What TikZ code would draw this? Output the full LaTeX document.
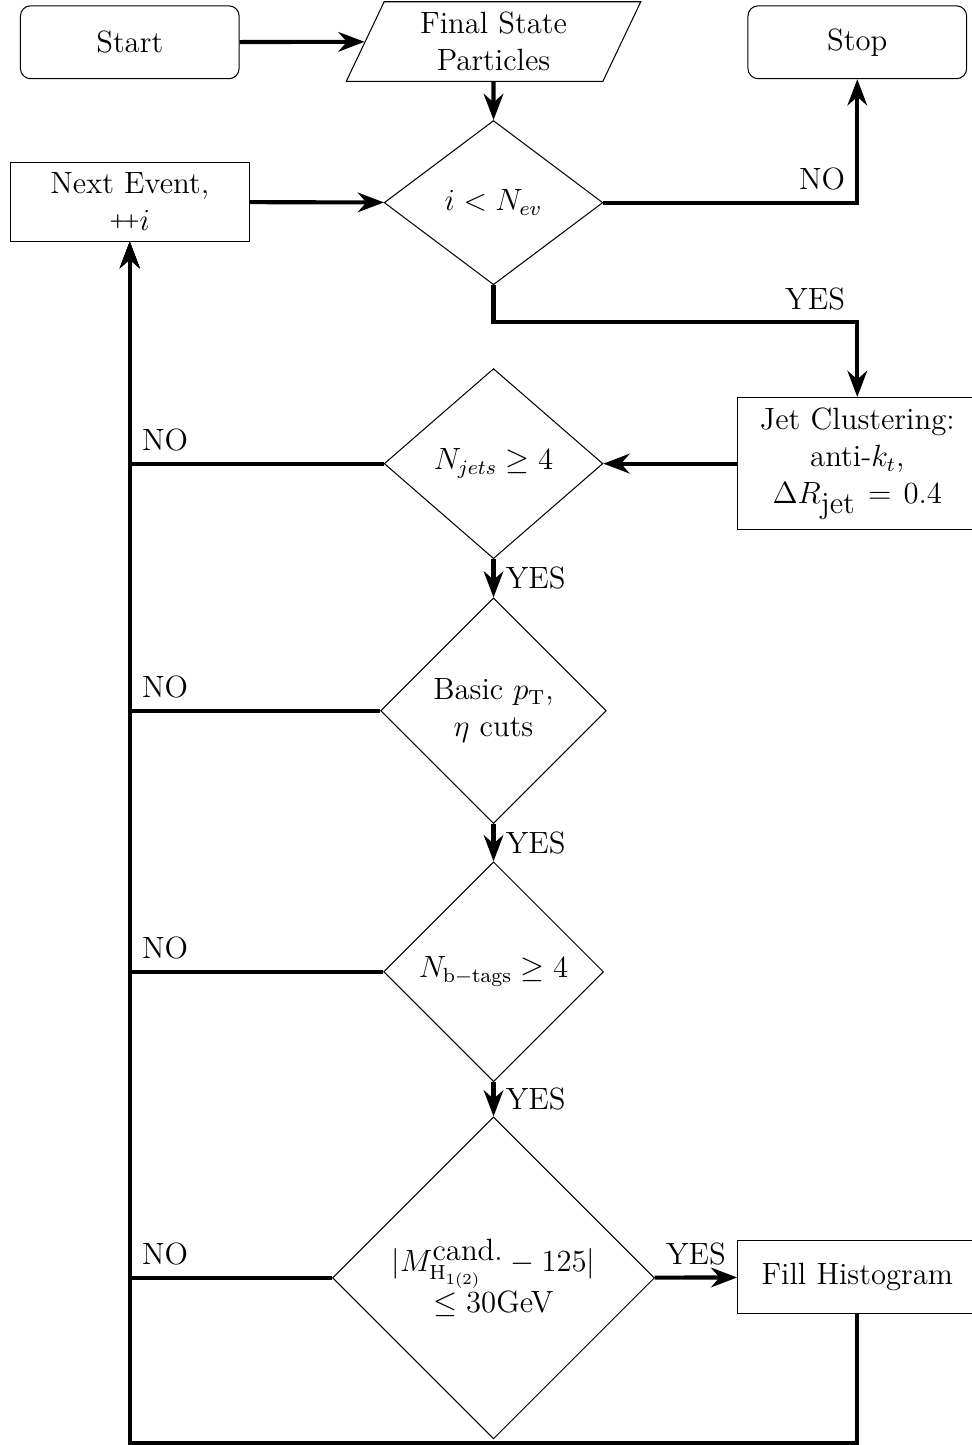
\documentclass[tikz,border=0pt,12pt]{standalone}
\usepackage{amsmath,amssymb}
\usepackage{tikz}
\usetikzlibrary{shapes.geometric,arrows.meta}
\newcommand{\Incr}{\raisebox{.4ex}{\tiny\bfseries +}\hspace{-.1em}\raisebox{.4ex}{\tiny\bfseries +}}
\tikzset{
  terminal/.style={rectangle, rounded corners, draw, minimum width=3cm, minimum height=1cm},
  io/.style={trapezium, trapezium left angle=70, trapezium right angle=110, draw,
    trapezium stretches=true, minimum width=4.07cm, minimum height=1.08cm, align=center},
  process/.style={rectangle, draw, text width=3cm, align=center, minimum height=1cm},
  decision/.style={diamond, draw, aspect=1, minimum width=3cm, align=center},
  arrow/.style={ultra thick, -{Stealth}}
}

\begin{document}
\begin{tikzpicture}
  \useasboundingbox (0,0) rectangle (13.32,-19.822);
  % top row
  \node[terminal] (start) at (1.78,-0.58) {Start};
  \node[io]       (final) at (6.77,-0.57) {Final State\\Particles};
  \node[terminal] (stop)  at (11.76,-0.58) {Stop};
  % event loop
  \node[process]  (next)  at (1.78,-2.77) {Next Event,\\ \Incr$i$};
  \node[decision] (d1)    at (6.77,-2.78) {$i < N_{ev}$};
  \coordinate (turn) at (6.77,-4.42);
  % selection
  \node[process]  (jet)   at (11.76,-6.36) {Jet Clustering:\\ anti-$k_t$,\\ $\Delta R_{\mbox{jet}} = 0.4$};
  \node[decision] (d2)    at (6.77,-6.36) {$N_{jets} \geq 4$};
  \node[decision] (d3)    at (6.77,-9.75) {Basic $p_{\rm T}$,\\ $\eta$ cuts};
  \node[decision] (d4)    at (6.77,-13.33) {$N_{\rm b-tags} \geq 4$};
  \node[decision] (d5)    at (6.77,-17.53) {$|M^{\mbox{cand.}}_{\rm H_{1(2)}} - 125|$\\ $\leq 30$GeV};
  \node[process]  (fill)  at (11.76,-17.52) {Fill Histogram};
  \coordinate (back) at (11.76,-19.79);

  \draw[arrow] (start) -- (final);
  \draw[arrow] (final) -- (d1);
  \draw[arrow] (next) -- (d1);
  \draw[arrow] (d1.east) -| node[above left] {NO} (stop.south);
  \draw[arrow] (d1.south) -- (turn) -| node[above left] {YES} (jet.north);
  \draw[arrow] (jet) -- (d2);
  \draw[arrow] (d2) -- node[right] {YES} (d3);
  \draw[arrow] (d3) -- node[right] {YES} (d4);
  \draw[arrow] (d4) -- node[right] {YES} (d5);
  \draw[arrow] (d5) -- node[above] {YES} (fill);
  % rejected events go back
  \draw[arrow] (d2.west) -| node[above right] {NO} (next.south);
  \draw[arrow] (d3.west) -| node[above right] {NO} (next.south);
  \draw[arrow] (d4.west) -| node[above right] {NO} (next.south);
  \draw[arrow] (d5.west) -| node[above right] {NO} (next.south);
  \draw[arrow] (fill.south) -- (back) -| (next.south);
\end{tikzpicture}
\end{document}
